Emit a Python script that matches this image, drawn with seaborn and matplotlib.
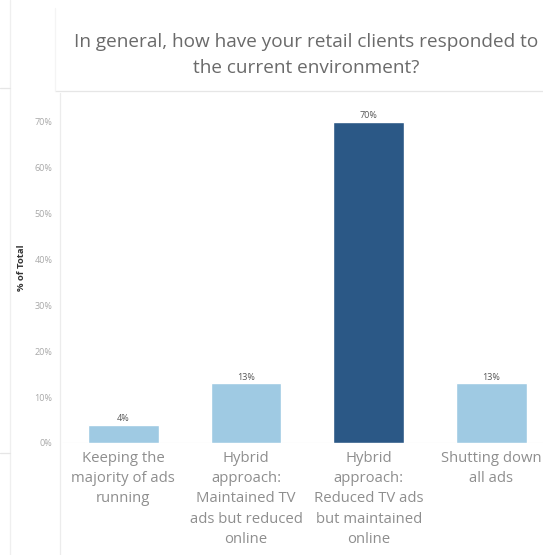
import matplotlib
matplotlib.use("Agg")
import matplotlib.pyplot as plt
import seaborn as sns
import pandas as pd
from matplotlib.lines import Line2D

# Survey responses (share of total, %)
categories = [
    "Keeping the\nmajority of ads\nrunning",
    "Hybrid\napproach:\nMaintained TV\nads but reduced\nonline",
    "Hybrid\napproach:\nReduced TV ads\nbut maintained\nonline",
    "Shutting down\nall ads",
]
shares = [4, 13, 70, 13]
bar_colors = ["#9fcae3", "#9fcae3", "#2b5886", "#9fcae3"]
y_ticks = [0, 10, 20, 30, 40, 50, 60, 70]
title = "In general, how have your retail clients responded to\nthe current environment?"

sns.set_theme(style="white")
plt.rcParams["font.family"] = ["Open Sans", "DejaVu Sans"]

W, H = 543, 555
fig = plt.figure(figsize=(W / 100, H / 100), dpi=100)
fig.patch.set_facecolor("white")

ax = fig.add_axes([62 / W, (H - 443) / H, (W - 62) / W, 350 / H])
df = pd.DataFrame({"category": categories, "share": shares})
sns.barplot(data=df, x="category", y="share", hue="category",
            palette=bar_colors, saturation=1, width=0.576,
            legend=False, ax=ax)

ax.set_xlim(-0.5, 3.42)
ax.set_ylim(0, 76.25)
ax.set_yticks(y_ticks)
ax.set_yticklabels([f"{t}%" for t in y_ticks])
ax.tick_params(axis="y", labelsize=6.5, labelcolor="#a8a8a8", length=0, pad=7)
ax.tick_params(axis="x", labelsize=10.7, labelcolor="#8e8e8e", length=0, pad=6)
for lbl in ax.get_xticklabels():
    lbl.set_linespacing(1.46)
    lbl.set_verticalalignment("top")
for s in ax.spines.values():
    s.set_visible(False)
ax.set_xlabel("")
ax.set_ylabel("% of Total", fontsize=6.8, color="#333333", fontweight="bold", labelpad=6)
ax.axhline(0, color="#e9e4e0", lw=0.8, zorder=0)

# value labels above each bar
for i, v in enumerate(shares):
    ax.text(i, v + 0.3, f"{v}%", ha="center", va="bottom", fontsize=6.5,
            color="#555555")

# title panel
fig.text(306 / W, 1 - 55 / H, title, ha="center", va="center", fontsize=13.7,
         color="#6a6a6a", linespacing=1.55)

# dashboard frame lines
def hline(y, x0, x1, c="#e6e6e6"):
    fig.add_artist(Line2D([x0 / W, x1 / W], [1 - y / H, 1 - y / H], color=c, lw=0.9))

def vline(x, y0, y1, c="#ececec"):
    fig.add_artist(Line2D([x / W, x / W], [1 - y0 / H, 1 - y1 / H], color=c, lw=0.9))

hline(91, 55, W)
vline(55, 8, 91, "#f4f4f4")
vline(60, 93, H, "#ececec")
vline(10, 0, H, "#efefef")
hline(88, 0, 10)
hline(453, 0, 10)

fig.savefig("out.png", dpi=100, facecolor="white")
